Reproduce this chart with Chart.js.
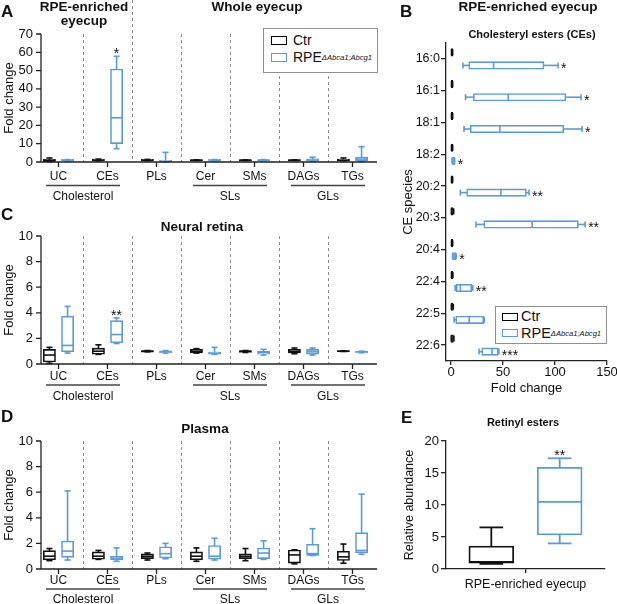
<!DOCTYPE html>
<html><head><meta charset="utf-8">
<script src="https://cdn.jsdelivr.net/npm/chart.js@4.4.1/dist/chart.umd.min.js"></script>
<style>
html,body{margin:0;padding:0;background:#fff;}
body{width:617px;height:604px;position:relative;overflow:hidden;font-family:'Liberation Sans',Arial,Helvetica,sans-serif;color:#111;}
canvas{position:absolute;}
.t{position:absolute;white-space:nowrap;line-height:1;}
.b{font-weight:bold;}
.c{transform:translateX(-50%);}
.leg{position:absolute;border:1px solid #8f8f8f;background:#fff;box-sizing:border-box;}
.sw{position:absolute;box-sizing:border-box;border:1.6px solid #000;background:#fff;}
.leg span{position:absolute;white-space:nowrap;line-height:1;}
.leg sup{font-size:7.6px;font-style:italic;vertical-align:baseline;position:relative;top:-2.5px;}
</style></head><body>

<canvas id="cA" width="400" height="205" style="left:0;top:0"></canvas>
<canvas id="cC" width="400" height="210" style="left:0;top:200px"></canvas>
<canvas id="cD" width="400" height="204" style="left:0;top:400px"></canvas>
<canvas id="cB" width="217" height="400" style="left:400px;top:0"></canvas>
<canvas id="cE" width="217" height="204" style="left:400px;top:400px"></canvas>

<div class="t b" style="left:1px;top:3px;font-size:17px">A</div>
<div class="t b" style="left:400px;top:3px;font-size:17px">B</div>
<div class="t b" style="left:1px;top:206px;font-size:17px">C</div>
<div class="t b" style="left:1px;top:408px;font-size:17px">D</div>
<div class="t b" style="left:401px;top:409px;font-size:17px">E</div>

<div class="t b c" style="left:84px;top:-0.5px;font-size:13.5px">RPE-enriched</div>
<div class="t b c" style="left:84px;top:14px;font-size:13.5px">eyecup</div>
<div class="t b c" style="left:257px;top:-0.5px;font-size:13.5px">Whole eyecup</div>
<div class="t b c" style="left:528px;top:0px;font-size:13.5px">RPE-enriched eyecup</div>
<div class="t b c" style="left:532px;top:28.6px;font-size:11px">Cholesteryl esters (CEs)</div>
<div class="t b c" style="left:202px;top:220px;font-size:13.5px">Neural retina</div>
<div class="t b c" style="left:205px;top:421.5px;font-size:13.5px">Plasma</div>
<div class="t b c" style="left:523px;top:416.6px;font-size:11px">Retinyl esters</div>

<div class="leg" style="left:263px;top:28px;width:115px;height:45px">
  <div class="sw" style="left:7px;top:7px;width:16px;height:9px;border-color:#000"></div>
  <span style="left:29px;top:4px;font-size:14px">Ctr</span>
  <div class="sw" style="left:7px;top:24px;width:16px;height:9px;border-color:#5b9bd5"></div>
  <span style="left:29px;top:21px;font-size:14px">RPE<sup>ΔAbca1;Abcg1</sup></span>
</div>
<div class="leg" style="left:495px;top:306px;width:112px;height:38px">
  <div class="sw" style="left:6px;top:6px;width:16px;height:8px;border-color:#000"></div>
  <span style="left:25px;top:2px;font-size:14.5px">Ctr</span>
  <div class="sw" style="left:6px;top:22px;width:16px;height:8px;border-color:#5b9bd5"></div>
  <span style="left:25px;top:19px;font-size:14.5px">RPE<sup>ΔAbca1;Abcg1</sup></span>
</div>

<script>
// ---------- data ----------
const lipidCats = ['UC','CEs','PLs','Cer','SMs','DAGs','TGs'];
const lipidGroups = ['Cholesterol','SLs','GLs'];
const groupMembers = [[0,1],[3,4],[5,6]];
// each box: [min, Q1, median, Q3, max]
const aCtr = [[0.2,0.4,0.8,1.2,2.2],[0.6,0.8,1.0,1.3,1.6],[0.7,0.8,1.0,1.2,1.4],[0.8,0.9,1.0,1.1,1.2],[0.8,0.9,1.0,1.1,1.2],[0.8,0.9,1.0,1.1,1.2],[0.6,0.8,1.0,1.4,2.2]];
const aRpe = [[0.6,0.8,1.0,1.2,1.3],[7.3,10.3,24.2,50.6,57.8],[0.0,0.1,0.3,0.6,5.3],[0.6,0.8,1.0,1.2,1.3],[0.7,0.8,1.0,1.1,1.3],[0.4,0.7,1.1,1.5,2.6],[0.3,0.8,1.6,2.5,8.4]];
const aStars = ['','*','','','','',''];
const aYTicks = [0,10,20,30,40,50,60,70];

const cCtr = [[0.05,0.2,0.7,1.1,1.3],[0.75,0.8,1.0,1.2,1.5],[0.95,0.97,1.0,1.02,1.05],[0.85,0.9,1.0,1.1,1.2],[0.9,0.95,1.0,1.02,1.05],[0.8,0.9,1.0,1.1,1.25],[0.98,0.99,1.0,1.01,1.03]];
const cRpe = [[0.85,1.0,1.45,3.7,4.5],[1.6,1.7,2.3,3.35,3.6],[0.85,0.9,0.95,1.0,1.05],[0.75,0.8,0.85,0.9,1.3],[0.7,0.8,0.9,0.95,1.15],[0.7,0.8,0.95,1.1,1.25],[0.88,0.92,0.95,0.98,1.0]];
const cStars = ['','**','','','','',''];
const cYTicks = [0,2,4,6,8,10];

const dCtr = [[0.65,0.75,1.0,1.4,1.6],[0.75,0.8,1.0,1.3,1.45],[0.7,0.85,1.0,1.15,1.25],[0.6,0.75,1.0,1.3,1.65],[0.65,0.85,1.0,1.15,1.6],[0.4,0.5,1.1,1.45,1.5],[0.45,0.7,0.95,1.35,1.95]];
const dRpe = [[0.7,0.95,1.4,2.15,6.1],[0.6,0.75,0.85,0.95,1.65],[0.8,0.9,1.2,1.7,2.0],[0.7,0.8,1.0,1.8,2.4],[0.75,0.85,1.25,1.6,2.2],[1.05,1.1,1.2,1.9,3.15],[1.15,1.3,1.45,2.8,5.85]];
const dStars = ['','','','','','',''];
const dYTicks = [0,2,4,6,8,10];

const bCats = ['16:0','16:1','18:1','18:2','20:2','20:3','20:4','22:4','22:5','22:6'];
const bCtr = [[0.5,0.7,1.0,1.3,1.6],[0.5,0.7,1.0,1.3,1.6],[0.5,0.7,1.0,1.3,1.6],[0.5,0.7,1.0,1.3,1.6],[0.5,0.7,1.0,1.3,1.6],[0.4,0.6,1.0,1.6,2.6],[0.5,0.7,1.0,1.3,1.6],[0.5,0.7,1.0,1.4,1.8],[0.4,0.6,1.0,1.5,2.2],[0.3,0.5,1.0,1.8,2.8]];
const bRpe = [[11.5,17.5,41,89,103],[14,22,55,110,125],[12.5,19,47,108,126],[1,1.5,2,3,3.5],[9,15.5,48,72,75],[24,32,78,122,129],[1.5,2,3,4,5],[4,5.5,9,19.5,21],[3,5,17.5,31,32],[27,30,39.5,45,46]];
const bStars = ['*','*','*','*','**','**','*','**','','***'];
const bXTicks = [0,50,100,150];

const eCats = ['RPE-enriched eyecup'];
const eCtr = [0.8,1.0,1.1,3.5,6.5];
const eRpe = [4.0,5.4,10.5,15.8,17.3];
const eStars = ['**'];
const eYTicks = [0,5,10,15,20];

// ---------- styling ----------
const BLACK = '#111111', BLUE = '#5b9bd5', AX = '#222222', TXT = '#111111';
const FAM = '"Liberation Sans", Arial, Helvetica, sans-serif';
Chart.defaults.font.family = FAM;
Chart.defaults.color = TXT;

function boxDataset(label, boxes, color, stars, catPct, barPct, bw) {
  return { label, data: boxes.map(b => [b[1], b[3]]), boxes, stars,
    borderColor: color, backgroundColor: '#ffffff', borderWidth: bw || 1.6,
    borderSkipped: false, inflateAmount: (bw || 1.6) / 2,
    categoryPercentage: catPct, barPercentage: barPct };
}

const boxPlugin = {
  id: 'boxWhisk',
  afterDatasetsDraw(chart) {
    const ctx = chart.ctx;
    const horiz = chart.options.indexAxis === 'y';
    const vs = horiz ? chart.scales.x : chart.scales.y;
    chart.data.datasets.forEach((ds, di) => {
      const meta = chart.getDatasetMeta(di);
      meta.data.forEach((el, i) => {
        const b = ds.boxes[i];
        const p = el.getProps(['x', 'y', 'width', 'height'], true);
        const c = horiz ? p.y : p.x;
        const t = horiz ? p.height : p.width;
        const px = v => vs.getPixelForValue(v);
        const cap = Math.max(t * 0.27, 3);
        ctx.save();
        ctx.strokeStyle = ds.borderColor;
        ctx.lineWidth = ds.borderWidth;
        ctx.lineCap = 'butt';
        const L = (v1, a1, v2, a2) => {
          ctx.beginPath();
          if (horiz) { ctx.moveTo(v1, a1); ctx.lineTo(v2, a2); }
          else { ctx.moveTo(a1, v1); ctx.lineTo(a2, v2); }
          ctx.stroke();
        };
        L(px(b[2]), c - t / 2, px(b[2]), c + t / 2);
        L(px(b[0]), c, px(b[1]), c);
        L(px(b[3]), c, px(b[4]), c);
        L(px(b[0]), c - cap, px(b[0]), c + cap);
        L(px(b[4]), c - cap, px(b[4]), c + cap);
        const s = ds.stars && ds.stars[i];
        if (s) {
          ctx.fillStyle = TXT;
          ctx.font = '14px ' + FAM;
          ctx.textBaseline = 'alphabetic';
          if (horiz) { ctx.textAlign = 'left'; ctx.fillText(s, px(b[4]) + 3, c + 8); }
          else { ctx.textAlign = 'center'; ctx.fillText(s, c, px(b[4]) + 2); }
        }
        ctx.restore();
      });
    });
  }
};

const lipidDeco = {
  id: 'lipidDeco',
  beforeDatasetsDraw(chart, args, o) {
    const { ctx, chartArea: ca, scales: { x } } = chart;
    ctx.save();
    ctx.strokeStyle = '#8c8c8c'; ctx.lineWidth = 1; ctx.setLineDash([3, 3]);
    for (let i = 0; i < x.ticks.length - 1; i++) {
      const p = Math.round((x.getPixelForTick(i) + x.getPixelForTick(i + 1)) / 2) + 0.5;
      const top = (i === o.tall) ? 0 : ca.top;
      ctx.beginPath(); ctx.moveTo(p, top); ctx.lineTo(p, ca.bottom); ctx.stroke();
    }
    ctx.restore();
  },
  afterDraw(chart, args, o) {
    const { ctx, chartArea: ca, scales: { x, y } } = chart;
    const ax = ca.left + o.axisOff, ay = ca.bottom;
    ctx.save();
    ctx.strokeStyle = AX; ctx.lineWidth = 1.3; ctx.setLineDash([]);
    ctx.beginPath();
    ctx.moveTo(ax, ca.top); ctx.lineTo(ax, ay); ctx.lineTo(ca.right, ay);
    y.ticks.forEach(t => { const p = y.getPixelForValue(t.value); ctx.moveTo(ax - 5, p); ctx.lineTo(ax, p); });
    x.ticks.forEach((t, i) => { const p = x.getPixelForTick(i); ctx.moveTo(p, ay); ctx.lineTo(p, ay + 5); });
    ctx.stroke();
    ctx.strokeStyle = '#444'; ctx.lineWidth = 1.3;
    ctx.fillStyle = TXT; ctx.font = '12px ' + FAM;
    ctx.textAlign = 'center'; ctx.textBaseline = 'middle';
    groupMembers.forEach((g, gi) => {
      const mid = (x.getPixelForTick(g[0]) + x.getPixelForTick(g[1])) / 2;
      ctx.beginPath(); ctx.moveTo(mid - 37, ay + o.lineOff); ctx.lineTo(mid + 37, ay + o.lineOff); ctx.stroke();
      ctx.fillText(lipidGroups[gi], mid, ay + o.grpOff);
    });
    ctx.restore();
  }
};

function lipidChart(id, ctr, rpe, stars, yTicks, o) {
  return new Chart(document.getElementById(id), {
    type: 'bar',
    data: { labels: lipidCats, datasets: [
      boxDataset('Ctr', ctr, BLACK, [], 0.74, 0.62),
      boxDataset('RPE', rpe, BLUE, stars, 0.74, 0.62)
    ]},
    options: {
      responsive: false, animation: false,
      layout: { padding: { top: o.top, right: o.right, left: 0, bottom: 0 } },
      plugins: { legend: { display: false }, tooltip: { enabled: false }, lipidDeco: o },
      scales: {
        x: { grid: { display: false, drawTicks: false }, border: { display: false },
             ticks: { padding: o.labPad, color: TXT, font: { size: 12 }, autoSkip: false, maxRotation: 0 },
             afterFit: s => { s.height = o.xh; s.paddingLeft = 0; s.paddingRight = 0; } },
        y: { min: yTicks[0], max: yTicks[yTicks.length - 1],
             afterBuildTicks: s => { s.ticks = yTicks.map(v => ({ value: v })); },
             grid: { display: false, drawTicks: false }, border: { display: false },
             ticks: { padding: 1, color: TXT, font: { size: 13 }, autoSkip: false },
             title: { display: true, text: 'Fold change', color: TXT, font: { size: 13 }, padding: { top: 2, bottom: 0 } },
             afterFit: s => { s.width = 34; } }
      }
    },
    plugins: [lipidDeco, boxPlugin]
  });
}

lipidChart('cA', aCtr, aRpe, aStars, aYTicks, { top: 34, right: 23, xh: 43, labPad: 7, axisOff: 7, lineOff: 23.5, grpOff: 34.5, tall: 1 });
lipidChart('cC', cCtr, cRpe, cStars, cYTicks, { top: 36, right: 23, xh: 46, labPad: 5, axisOff: 7, lineOff: 21, grpOff: 32.5, tall: -1 });
lipidChart('cD', dCtr, dRpe, dStars, dYTicks, { top: 41, right: 23, xh: 35, labPad: 4, axisOff: 7, lineOff: 20, grpOff: 30.5, tall: -1 });

const axisGrid = (tl) => ({ display: true, drawOnChartArea: false, drawTicks: true, tickLength: tl, color: AX, lineWidth: 1.3, offset: false });
const axisBorder = { display: true, color: AX, width: 1.3 };

new Chart(document.getElementById('cB'), {
  type: 'bar',
  data: { labels: bCats, datasets: [
    boxDataset('Ctr', bCtr, BLACK, [], 0.82, 0.5),
    boxDataset('RPE', bRpe, BLUE, bStars, 0.82, 0.5)
  ]},
  options: {
    indexAxis: 'y', responsive: false, animation: false,
    layout: { padding: { top: 43, right: 10, left: 0, bottom: 0 } },
    plugins: { legend: { display: false }, tooltip: { enabled: false } },
    scales: {
      y: { grid: axisGrid(5), border: axisBorder,
           ticks: { padding: 1, color: TXT, font: { size: 12.5 }, autoSkip: false },
           title: { display: true, text: 'CE species', color: TXT, font: { size: 13 }, padding: { top: 1, bottom: 0 } },
           afterFit: s => { s.width = 46; } },
      x: { type: 'linear', min: -4.8, max: 150,
           afterBuildTicks: s => { s.ticks = bXTicks.map(v => ({ value: v })); },
           grid: axisGrid(4), border: axisBorder,
           ticks: { padding: 0, color: TXT, font: { size: 13 }, maxRotation: 0, autoSkip: false },
           title: { display: true, text: 'Fold change', color: TXT, font: { size: 13 }, padding: { top: 0, bottom: 4 } },
           afterFit: s => { s.height = 39; s.paddingLeft = 0; s.paddingRight = 0; } }
    }
  },
  plugins: [boxPlugin]
});

new Chart(document.getElementById('cE'), {
  type: 'bar',
  data: { labels: eCats, datasets: [
    boxDataset('Ctr', [eCtr], BLACK, [], 0.86, 0.64, 1.8),
    boxDataset('RPE', [eRpe], BLUE, eStars, 0.86, 0.64, 1.8)
  ]},
  options: {
    responsive: false, animation: false,
    layout: { padding: { top: 41, right: 12, left: 0, bottom: 0 } },
    plugins: { legend: { display: false }, tooltip: { enabled: false } },
    scales: {
      x: { grid: axisGrid(4), border: axisBorder,
           ticks: { padding: 4.5, color: TXT, font: { size: 12.5 }, maxRotation: 0 },
           afterFit: s => { s.height = 35; s.paddingLeft = 0; s.paddingRight = 0; } },
      y: { min: 0, max: 20,
           afterBuildTicks: s => { s.ticks = eYTicks.map(v => ({ value: v })); },
           grid: axisGrid(5), border: axisBorder,
           ticks: { padding: 2, color: TXT, font: { size: 13 }, autoSkip: false },
           title: { display: true, text: 'Relative abundance', color: TXT, font: { size: 12.5 }, padding: { top: 2, bottom: 0 } },
           afterFit: s => { s.width = 46; } }
    }
  },
  plugins: [boxPlugin]
});
</script>
</body></html>
